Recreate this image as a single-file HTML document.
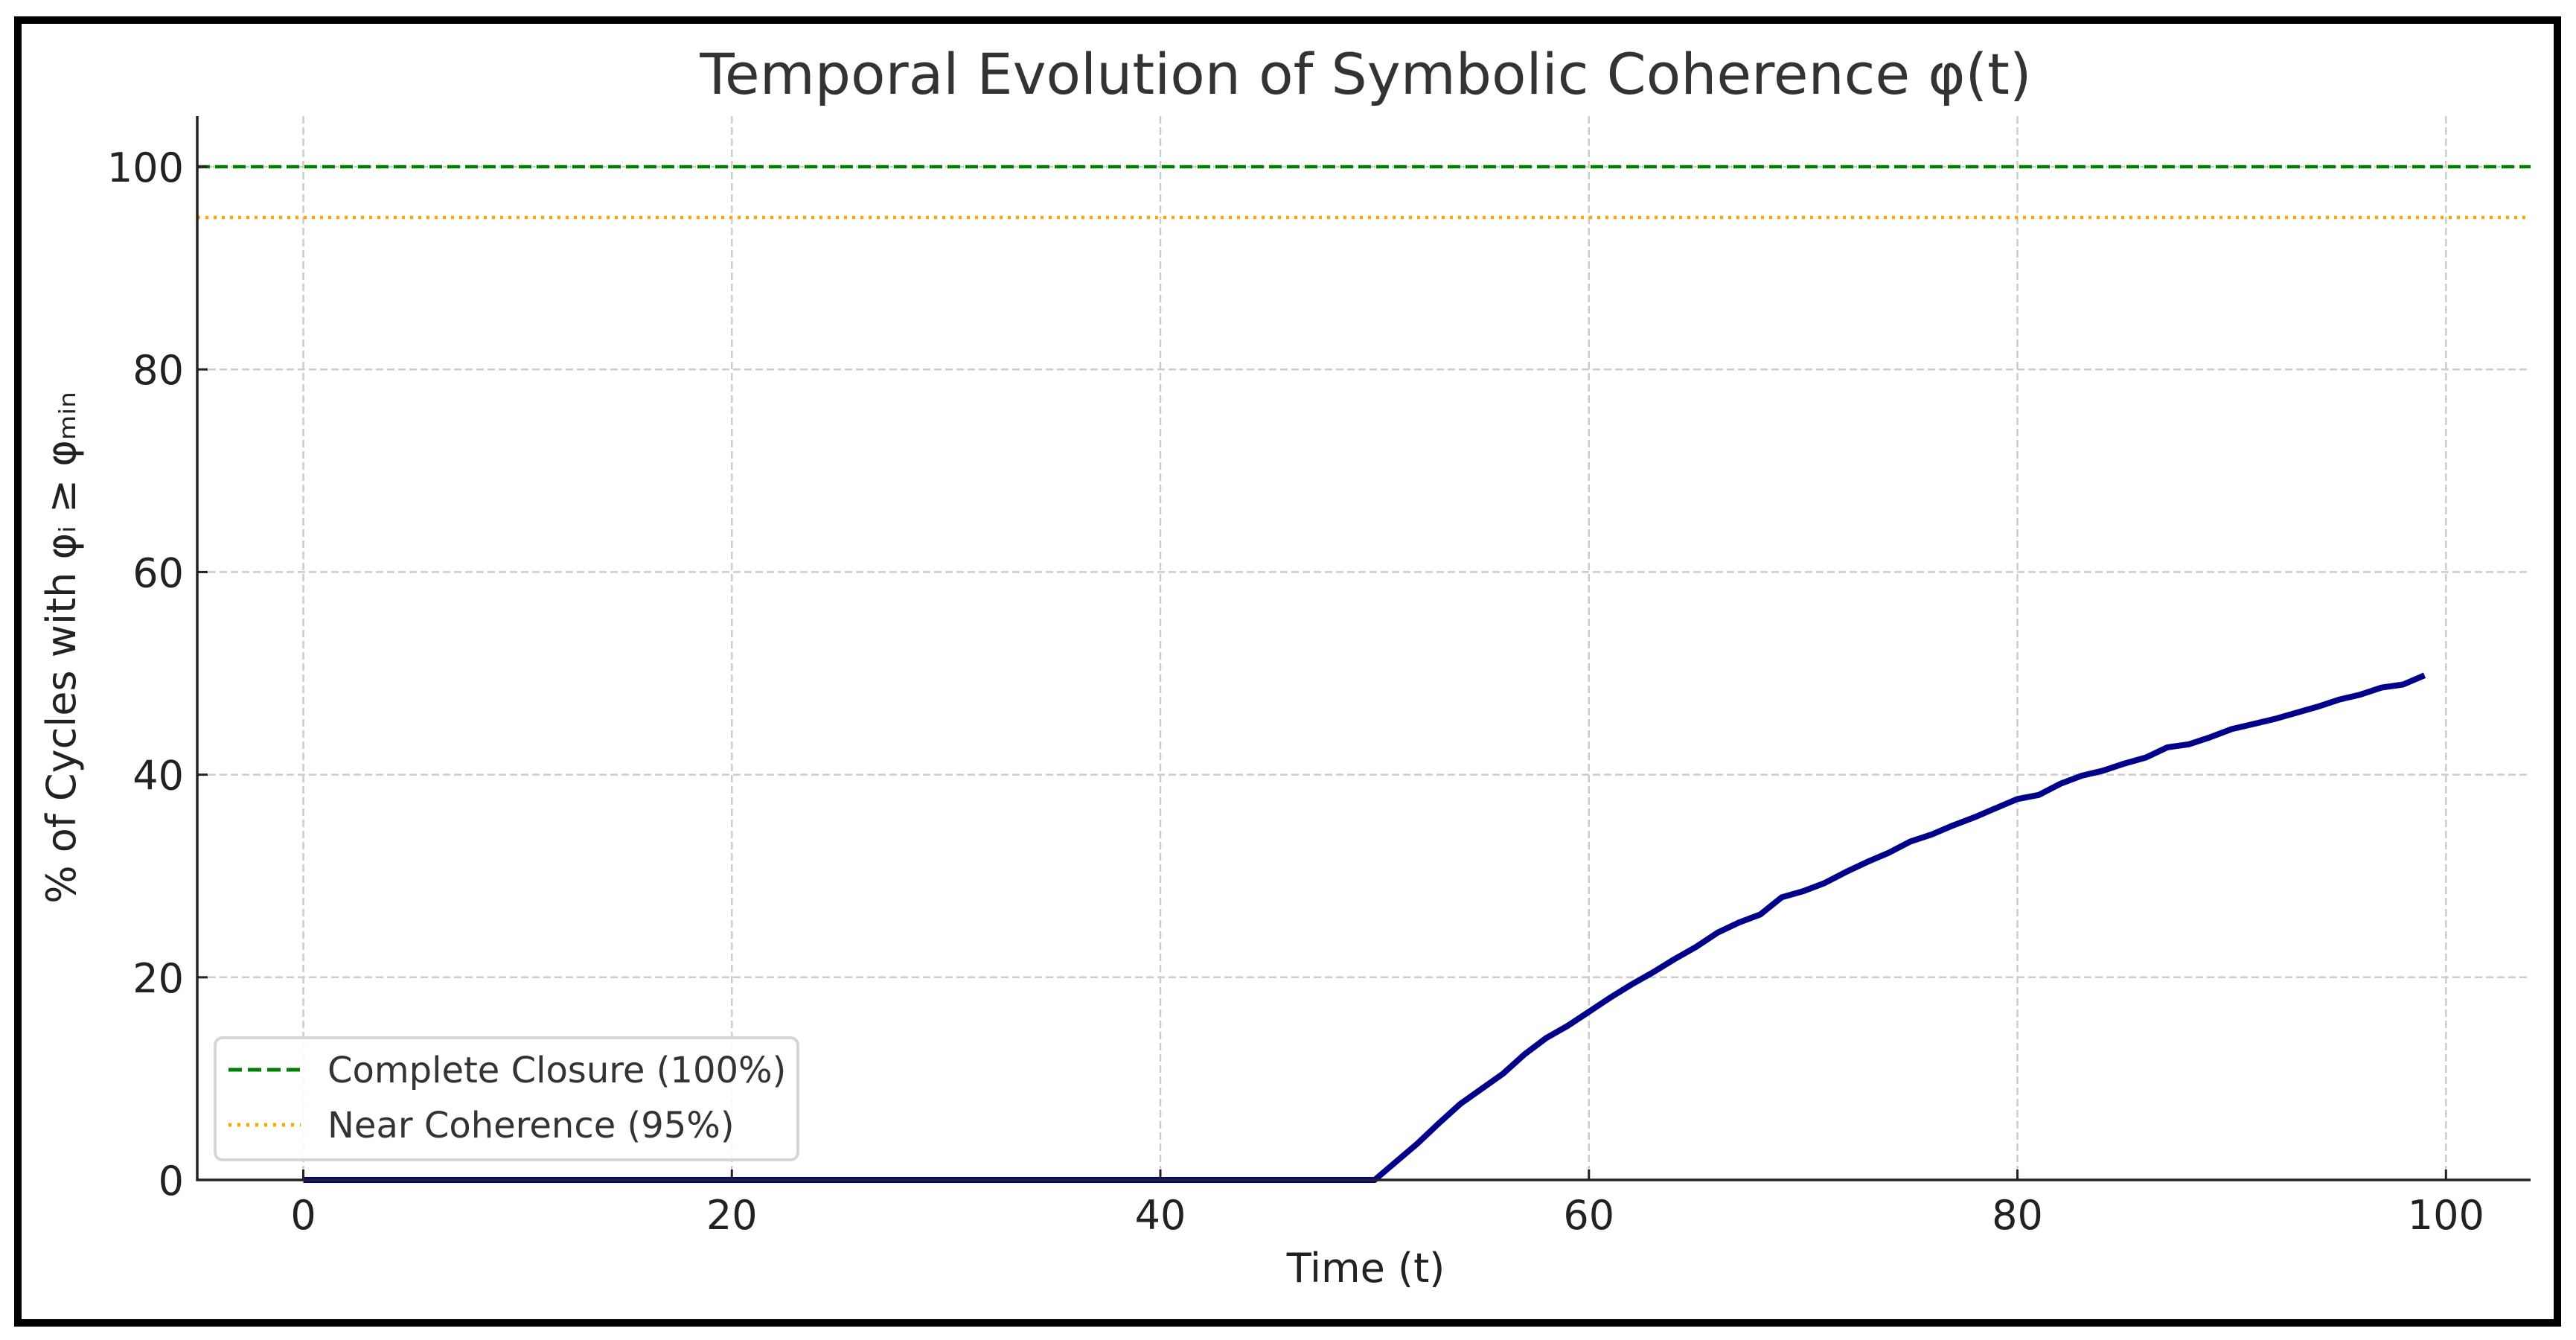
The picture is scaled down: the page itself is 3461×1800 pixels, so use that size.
<!DOCTYPE html>
<html><head><meta charset="utf-8">
<style>
html,body{margin:0;padding:0;background:#fff;}
svg{display:block;}
text{font-family:"DejaVu Sans","Liberation Sans",sans-serif;}
</style></head>
<body>
<svg id="chart" width="3461" height="1800" viewBox="0 0 3461 1800" xmlns="http://www.w3.org/2000/svg">
<rect x="24" y="27" width="3412" height="1750" fill="#fff" stroke="#000" stroke-width="10"/>
<text x="1835" y="126" font-size="76" fill="#333" text-anchor="middle">Temporal Evolution of Symbolic Coherence φ(t)</text>
<g id="grid"></g>
<g id="refs"></g>
<g id="series"></g>
<g id="axes"></g>
<text x="1835" y="1722" font-size="54" fill="#222" text-anchor="middle">Time (t)</text>
<text transform="translate(101,870) rotate(-90)" font-size="54" fill="#222" text-anchor="middle">% of Cycles with φᵢ ≥ φₘᵢₙ</text>
<g>
<rect x="289" y="1394" width="783" height="164" rx="10" fill="#fff" fill-opacity="0.85" stroke="#d6d6d6" stroke-width="4"/>
<line x1="307" y1="1437" x2="404" y2="1437" stroke="#008000" stroke-width="5" stroke-dasharray="18,8"/>
<text x="440" y="1454" font-size="48" fill="#333">Complete Closure (100%)</text>
<line x1="307" y1="1511" x2="404" y2="1511" stroke="#ffa500" stroke-width="5" stroke-dasharray="4,8"/>
<text x="440" y="1528" font-size="48" fill="#333">Near Coherence (95%)</text>
</g>
</svg>
<script>
const tValues = [0,1,2,3,4,5,6,7,8,9,10,11,12,13,14,15,16,17,18,19,20,21,22,23,24,25,26,27,28,29,30,31,32,33,34,35,36,37,38,39,40,41,42,43,44,45,46,47,48,49,50,51,52,53,54,55,56,57,58,59,60,61,62,63,64,65,66,67,68,69,70,71,72,73,74,75,76,77,78,79,80,81,82,83,84,85,86,87,88,89,90,91,92,93,94,95,96,97,98,99];
const coherence = [0,0,0,0,0,0,0,0,0,0,0,0,0,0,0,0,0,0,0,0,0,0,0,0,0,0,0,0,0,0,0,0,0,0,0,0,0,0,0,0,0,0,0,0,0,0,0,0,0,0,0,1.8,3.6,5.6,7.5,9,10.5,12.4,14,15.2,16.6,18,19.3,20.5,21.8,23,24.4,25.4,26.2,27.9,28.5,29.3,30.4,31.4,32.3,33.4,34.1,35,35.8,36.7,37.6,38,39.1,39.9,40.4,41.1,41.7,42.7,43,43.7,44.5,45,45.5,46.1,46.7,47.4,47.9,48.6,48.9,49.8];
const refValues = [100,95];
const xTicks = [0,20,40,60,80,100];
const yTicks = [0,20,40,60,80,100];
const xTickLabels = ["0","20","40","60","80","100"];
const yTickLabels = ["0","20","40","60","80","100"];

const L=265,R=3400,T=156,B=1585;
const xMin=-4.95,xMax=103.95,yMin=0,yMax=105;
function X(v){return L+(v-xMin)/(xMax-xMin)*(R-L);}
function Y(v){return B-(v-yMin)/(yMax-yMin)*(B-T);}
const NS="http://www.w3.org/2000/svg";
function mk(tag,parent,attrs){const e=document.createElementNS(NS,tag);for(const k in attrs)e.setAttribute(k,attrs[k]);parent.appendChild(e);return e;}
const grid=document.getElementById('grid'),refs=document.getElementById('refs'),series=document.getElementById('series'),axes=document.getElementById('axes');

xTicks.forEach((v,i)=>{
  const g=mk('line',grid,{x1:X(v),x2:X(v),y1:T,y2:B,stroke:'#cccccc','stroke-width':2.5,'stroke-dasharray':'10,5'});
  
  
  const t=mk('line',axes,{x1:X(v),x2:X(v),y1:B,y2:B-14,stroke:'#222','stroke-width':3});
  
  
  const lb=mk('text',axes,{x:X(v),y:B+66,'font-size':54,fill:'#222','text-anchor':'middle'});
  lb.textContent=xTickLabels[i];
  
  
});
yTicks.forEach((v,i)=>{
  if(v>0){
  const g=mk('line',grid,{x1:L,x2:R,y1:Y(v),y2:Y(v),stroke:'#cccccc','stroke-width':2.5,'stroke-dasharray':'10,5'});
  
  }
  const t=mk('line',axes,{x1:L,x2:L+14,y1:Y(v),y2:Y(v),stroke:'#222','stroke-width':3});
  
  
  const lb=mk('text',axes,{x:L-18,y:Y(v)+20,'font-size':54,fill:'#222','text-anchor':'end'});
  lb.textContent=yTickLabels[i];
  
  
});
const r1=mk('line',refs,{x1:L,x2:R,y1:Y(refValues[0]),y2:Y(refValues[0]),stroke:'#008000','stroke-width':4.5,'stroke-dasharray':'17,7'});


const r2=mk('line',refs,{x1:L,x2:R,y1:Y(refValues[1]),y2:Y(refValues[1]),stroke:'#ffa500','stroke-width':4.5,'stroke-dasharray':'4,7'});


const pts=tValues.map((t,i)=>X(t).toFixed(1)+','+Y(coherence[i]).toFixed(1)).join(' ');
const pl=mk('polyline',series,{points:pts,fill:'none',stroke:'#00008b','stroke-width':8,'stroke-linejoin':'round'});


const ax1=mk('line',axes,{x1:L,x2:L,y1:T,y2:B+1.5,stroke:'#222','stroke-width':3.5});


const ax2=mk('line',axes,{x1:L-1.5,x2:R,y1:B,y2:B,stroke:'#222','stroke-width':3.5});


</script>
</body></html>
